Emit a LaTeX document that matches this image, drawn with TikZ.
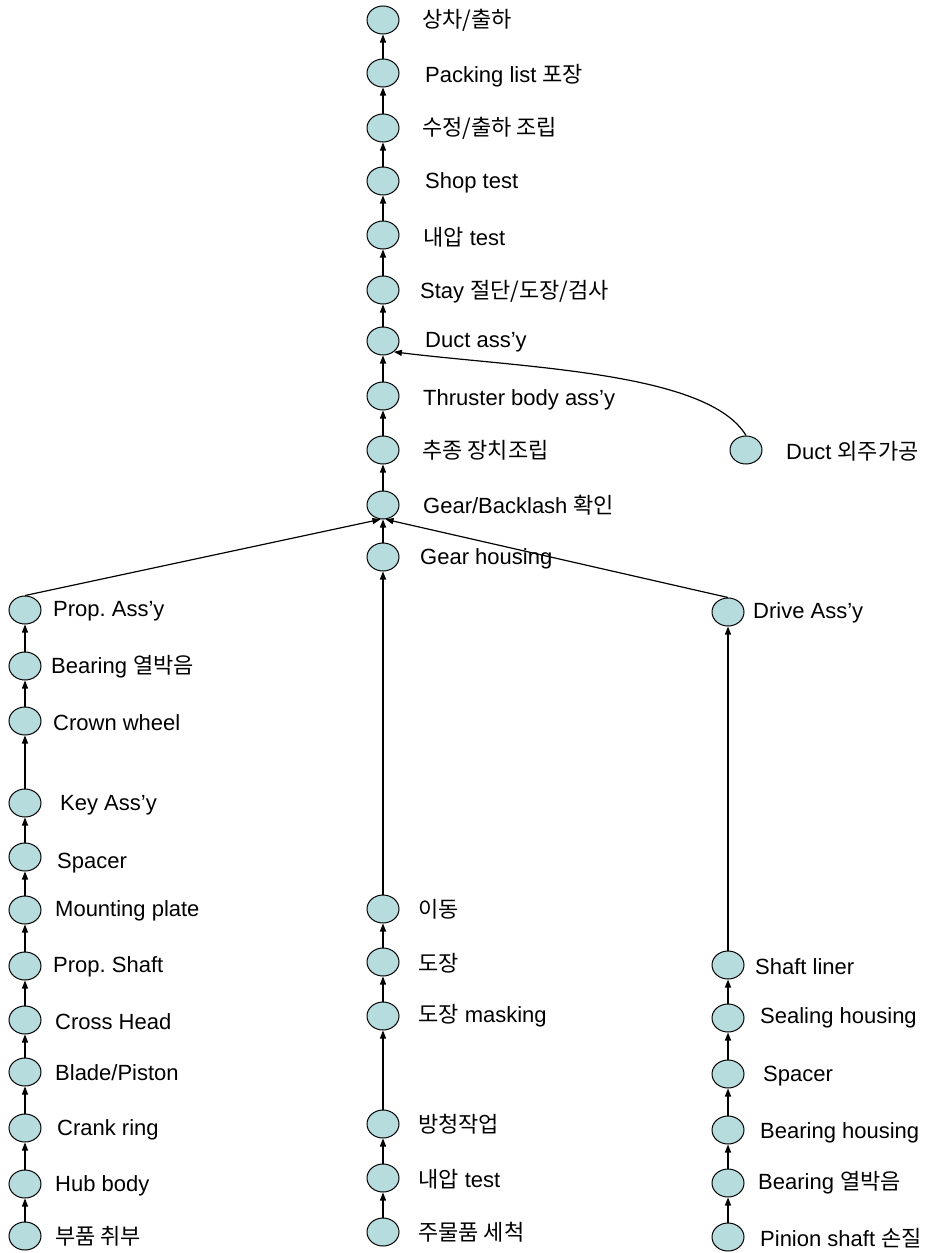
\documentclass[tikz,border=0pt]{standalone}
\usepackage{fontspec}
\setmainfont{Liberation Sans}
\newfontfamily\krfont{Noto Sans CJK KR}
\usepackage{tikz}
\usetikzlibrary{shapes.geometric,arrows.meta,positioning}
\definecolor{stagefill}{RGB}{182,220,222}
\frenchspacing

\begin{document}
\begin{tikzpicture}[x=1pt,y=-1pt,
	stage/.style={ellipse,draw,line width=1pt,fill=stagefill,minimum width=32pt,minimum height=28pt,inner sep=0pt},
	lbl/.style={anchor=west,inner sep=0pt,font=\fontsize{22}{24}\selectfont},
	flow/.style={line width=1.2pt,-{Triangle[length=8pt,width=6pt]}}]
	\useasboundingbox (0,0) rectangle (928,1253);
	
	% central column
	\node[stage] (c1) at (383,20) {};
	\node[stage] (c2) at (383,73) {};
	\node[stage] (c3) at (383,128) {};
	\node[stage] (c4) at (383,181) {};
	\node[stage] (c5) at (383,235) {};
	\node[stage] (c6) at (383,290) {};
	\node[stage] (c7) at (383,341) {};
	\node[stage] (c8) at (383,396) {};
	\node[stage] (c9) at (383,450) {};
	\node[stage] (c10) at (383,505) {};
	\node[stage] (c11) at (383,557) {};
	\node[stage] (c12) at (383,909) {};
	\node[stage] (c13) at (383,962) {};
	\node[stage] (c14) at (383,1016) {};
	\node[stage] (c15) at (383,1124) {};
	\node[stage] (c16) at (383,1178) {};
	\node[stage] (c17) at (383,1232) {};
	
	\node[lbl] (t1) at (422,20) {\krfont 상차/출하};
	\node[lbl] (t2) at (425,76) {Packing list {\krfont 포장}};
	\node[lbl] (t3) at (422,128) {\krfont 수정/출하 조립};
	\node[lbl] (t4) at (425,183) {Shop test};
	\node[lbl] (t5) at (423,237) {{\krfont 내압} test};
	\node[lbl] (t6) at (420,292) {Stay {\krfont 절단/도장/검사}};
	\node[lbl] (t7) at (425,342) {Duct ass’y};
	\node[lbl] (t8) at (423,400) {Thruster body ass’y};
	\node[lbl] (t9) at (422,450) {\krfont 추종 장치조립};
	\node[lbl] (t10) at (423,505) {Gear/Backlash {\krfont 확인}};
	\node[lbl] (t11) at (420,559) {Gear housing};
	\node[lbl] (t12) at (418,909) {\krfont 이동};
	\node[lbl] (t13) at (418,963) {\krfont 도장};
	\node[lbl] (t14) at (418,1016) {{\krfont 도장} masking};
	\node[lbl] (t15) at (418,1124) {\krfont 방청작업};
	\node[lbl] (t16) at (418,1179) {{\krfont 내압} test};
	\node[lbl] (t17) at (418,1232) {\krfont 주물품 세척};
	
	% outsourced duct
	\node[stage] (d1) at (746,450) {};
	\node[lbl] (td1) at (786,451) {Duct {\krfont 외주가공}};
	
	% left column
	\node[stage] (l1) at (25,610) {};
	\node[stage] (l2) at (25,666) {};
	\node[stage] (l3) at (25,721) {};
	\node[stage] (l4) at (25,803) {};
	\node[stage] (l5) at (25,857) {};
	\node[stage] (l6) at (25,910) {};
	\node[stage] (l7) at (25,966) {};
	\node[stage] (l8) at (25,1020) {};
	\node[stage] (l9) at (25,1072) {};
	\node[stage] (l10) at (25,1128) {};
	\node[stage] (l11) at (25,1184) {};
	\node[stage] (l12) at (25,1236) {};
	
	\node[lbl] (s1) at (53,611) {Prop. Ass’y};
	\node[lbl] (s2) at (51,667) {Bearing {\krfont 열박음}};
	\node[lbl] (s3) at (53,723) {Crown wheel};
	\node[lbl] (s4) at (60,805) {Key Ass’y};
	\node[lbl] (s5) at (57,863) {Spacer};
	\node[lbl] (s6) at (55,911) {Mounting plate};
	\node[lbl] (s7) at (53,967) {Prop. Shaft};
	\node[lbl] (s8) at (55,1022) {Cross Head};
	\node[lbl] (s9) at (55,1073) {Blade/Piston};
	\node[lbl] (s10) at (57,1130) {Crank ring};
	\node[lbl] (s11) at (55,1186) {Hub body};
	\node[lbl] (s12) at (55,1236) {\krfont 부품 취부};
	
	% right column
	\node[stage] (r1) at (728,612) {};
	\node[stage] (r2) at (728,965) {};
	\node[stage] (r3) at (728,1018) {};
	\node[stage] (r4) at (728,1074) {};
	\node[stage] (r5) at (728,1130) {};
	\node[stage] (r6) at (728,1183) {};
	\node[stage] (r7) at (728,1237) {};
	
	\node[lbl] (u1) at (753,613) {Drive Ass’y};
	\node[lbl] (u2) at (755,967) {Shaft liner};
	\node[lbl] (u3) at (760,1018) {Sealing housing};
	\node[lbl] (u4) at (763,1076) {Spacer};
	\node[lbl] (u5) at (760,1133) {Bearing housing};
	\node[lbl] (u6) at (758,1183) {Bearing {\krfont 열박음}};
	\node[lbl] (u7) at (760,1238) {Pinion shaft {\krfont 손질}};
	
	% central connections
	\draw[flow] (c2) -- (c1);
	\draw[flow] (c3) -- (c2);
	\draw[flow] (c4) -- (c3);
	\draw[flow] (c5) -- (c4);
	\draw[flow] (c6) -- (c5);
	\draw[flow] (c7) -- (c6);
	\draw[flow] (c8) -- (c7);
	\draw[flow] (c9) -- (c8);
	\draw[flow] (c10) -- (c9);
	\draw[flow] (c11) -- (c10);
	\draw[flow] (c12) -- (c11);
	\draw[flow] (c13) -- (c12);
	\draw[flow] (c14) -- (c13);
	\draw[flow] (c15) -- (c14);
	\draw[flow] (c16) -- (c15);
	\draw[flow] (c17) -- (c16);
	\draw[flow] (d1.north) .. controls (708,372) and (525,368) .. (c7.-45);
	
	% left connections
	\draw[flow] (l1.north) -- (c10.-100);
	\draw[flow] (l2) -- (l1);
	\draw[flow] (l3) -- (l2);
	\draw[flow] (l4) -- (l3);
	\draw[flow] (l5) -- (l4);
	\draw[flow] (l6) -- (l5);
	\draw[flow] (l7) -- (l6);
	\draw[flow] (l8) -- (l7);
	\draw[flow] (l9) -- (l8);
	\draw[flow] (l10) -- (l9);
	\draw[flow] (l11) -- (l10);
	\draw[flow] (l12) -- (l11);
	
	% right connections
	\draw[flow] (r1.north) -- (c10.-80);
	\draw[flow] (r2) -- (r1);
	\draw[flow] (r3) -- (r2);
	\draw[flow] (r4) -- (r3);
	\draw[flow] (r5) -- (r4);
	\draw[flow] (r6) -- (r5);
	\draw[flow] (r7) -- (r6);
	
\end{tikzpicture}
\end{document}
